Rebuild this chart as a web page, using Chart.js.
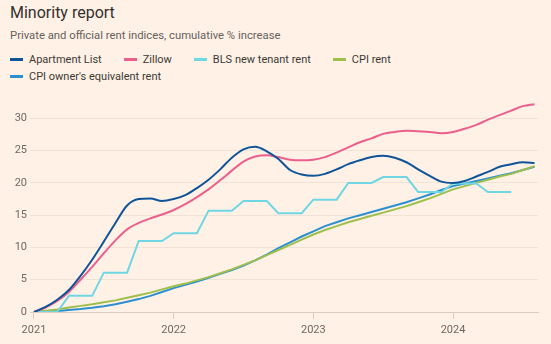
<!DOCTYPE html>
<html>
<head>
<meta charset="utf-8">
<script src="https://cdn.jsdelivr.net/npm/chart.js@4/dist/chart.umd.min.js"></script>
<style>
    body { margin: 0; background: #fff1e5; font-family: Roboto, sans-serif; }
    #wrap { position: relative; width: 551px; height: 344px; overflow: hidden; }
    #title { position: absolute; left: 10px; top: 3px; font-size: 16px; line-height: 20px; color: #33302e; }
    #subtitle { position: absolute; left: 10px; top: 28px; font-size: 11.3px; line-height: 16px; color: #66605c; }
    #legend { position: absolute; left: 10px; top: 51px; width: 531px; display: flex; flex-wrap: wrap; column-gap: 22px; }
    .item { display: flex; align-items: center; font-size: 11px; line-height: 17px; color: #3d3935; }
    .swatch { width: 13px; height: 3px; margin-right: 6px; }
    #chartBox { position: absolute; left: 0; top: 88px; }
</style>
</head>
<body>
<div id="wrap">
    <div id="title">Minority report</div>
    <div id="subtitle">Private and official rent indices, cumulative % increase</div>
    <div id="legend"></div>
    <div id="chartBox"><canvas id="myChart" width="551" height="256"></canvas></div>
</div>
<script>
'use strict';

// monthly values, first point = Jan 2021
let aptList = [
    0, 0.8, 1.9, 3.4, 5.6, 8.1, 10.9, 13.8, 16.5, 17.5, 17.6, 17.2,
    17.5, 18.1, 19.2, 20.5, 22.1, 23.9, 25.2, 25.6, 24.9, 23.7, 22.0, 21.3,
    21.1, 21.4, 22.1, 22.9, 23.5, 24.0, 24.2, 23.9, 23.2, 22.1, 21.1, 20.2,
    20.0, 20.3, 21.0, 21.7, 22.5, 22.9, 23.2, 23.1
];
let zillow = [
    0, 0.7, 1.7, 3.1, 5.0, 7.0, 9.1, 11.1, 12.8, 13.8, 14.5, 15.1,
    15.8, 16.7, 17.8, 19.0, 20.4, 21.9, 23.3, 24.1, 24.3, 24.0, 23.6, 23.5,
    23.6, 24.0, 24.7, 25.5, 26.3, 26.9, 27.6, 27.9, 28.1, 28.0, 27.9, 27.7,
    27.9, 28.4, 29.0, 29.8, 30.5, 31.2, 31.9, 32.2
];
let blsNewTenant = [
    0, 0, 0, 2.5, 2.5, 2.5, 6.1, 6.1, 6.1, 11.0, 11.0, 11.0,
    12.2, 12.2, 12.2, 15.7, 15.7, 15.7, 17.2, 17.2, 17.2, 15.3, 15.3, 15.3,
    17.4, 17.4, 17.4, 20.0, 20.0, 20.0, 20.9, 20.9, 20.9, 18.6, 18.6, 18.6,
    19.9, 19.9, 19.9, 18.6, 18.6, 18.6
];
let cpiRent = [
    0, 0.2, 0.4, 0.7, 0.95, 1.2, 1.5, 1.8, 2.2, 2.6, 3.0, 3.5,
    4.0, 4.4, 4.9, 5.4, 6.0, 6.6, 7.3, 8.0, 8.8, 9.6, 10.4, 11.2,
    12.0, 12.7, 13.3, 13.9, 14.4, 14.9, 15.4, 15.9, 16.4, 17.0, 17.6, 18.3,
    19.0, 19.5, 20.0, 20.5, 21.0, 21.4, 22.0, 22.6
];
let cpiOer = [
    0, 0.05, 0.15, 0.3, 0.45, 0.65, 0.9, 1.2, 1.6, 2.0, 2.5, 3.1,
    3.7, 4.2, 4.7, 5.3, 5.9, 6.5, 7.2, 8.0, 8.9, 9.9, 10.8, 11.7,
    12.5, 13.3, 13.9, 14.5, 15.0, 15.5, 16.0, 16.5, 17.0, 17.6, 18.2, 18.9,
    19.5, 19.9, 20.3, 20.7, 21.1, 21.5, 22.0, 22.5
];

let yearTicks = [0, 12, 24, 36];
let yearLabels = ['2021', '2022', '2023', '2024'];
let yTicks = [0, 5, 10, 15, 20, 25, 30];

let seriesNames = ['Apartment List', 'Zillow', 'BLS new tenant rent', 'CPI rent', "CPI owner's equivalent rent"];
let seriesData = [aptList, zillow, blsNewTenant, cpiRent, cpiOer];
let seriesColors = ['#0f5499', '#eb5f8c', '#6fd7e4', '#9fbf4c', '#2b8fd0'];
let seriesTension = [0.4, 0.4, 0, 0, 0];

function toPoints(arr) {
    let pts = [];
    for (let i = 0; i < arr.length; i++) {
        pts.push({ x: i, y: arr[i] });
    }
    return pts;
}

// legend
let legend = document.getElementById('legend');
for (let i = 0; i < seriesNames.length; i++) {
    let item = document.createElement('div');
    item.className = 'item';
    let sw = document.createElement('span');
    sw.className = 'swatch';
    sw.style.background = seriesColors[i];
    item.appendChild(sw);
    item.appendChild(document.createTextNode(seriesNames[i]));
    legend.appendChild(item);
}

let datasets = [];
for (let i = 0; i < seriesNames.length; i++) {
    datasets.push({
        label: seriesNames[i],
        data: toPoints(seriesData[i]),
        borderColor: seriesColors[i],
        backgroundColor: seriesColors[i],
        borderWidth: 2,
        pointRadius: 0,
        tension: seriesTension[i],
        cubicInterpolationMode: seriesTension[i] ? 'monotone' : 'default',
        fill: false
    });
}

let tickFont = { family: 'Roboto', size: 11 };

let ctx = document.getElementById('myChart').getContext('2d');
let myChart = new Chart(ctx, {
    type: 'line',
    data: { datasets: datasets },
    options: {
        responsive: false,
        animation: false,
        layout: { padding: { top: 11, right: 13, left: 0, bottom: 0 } },
        plugins: {
            legend: { display: false },
            tooltip: { enabled: false }
        },
        scales: {
            x: {
                type: 'linear',
                min: -0.34,
                max: 43.3,
                afterBuildTicks: function (scale) {
                    scale.ticks = yearTicks.map(v => ({ value: v }));
                },
                afterFit: function (scale) { scale.height = 32; },
                ticks: {
                    font: tickFont,
                    color: '#6e6864',
                    padding: 5,
                    maxRotation: 0,
                    callback: function (v) {
                        let i = yearTicks.indexOf(v);
                        return i >= 0 ? yearLabels[i] : '';
                    }
                },
                grid: { drawOnChartArea: false, tickLength: 7, color: '#d8cec4' },
                border: { color: '#d8cec4' }
            },
            y: {
                min: 0,
                max: 33,
                afterBuildTicks: function (scale) {
                    scale.ticks = yTicks.map(v => ({ value: v }));
                },
                afterFit: function (scale) { scale.width = 30; },
                ticks: { font: tickFont, color: '#6e6864', padding: 3 },
                grid: {
                    drawTicks: false,
                    color: function (c) { return c.tick && c.tick.value === 0 ? '#d8cec4' : '#efe3d8'; }
                },
                border: { display: false }
            }
        }
    }
});
</script>
</body>
</html>
